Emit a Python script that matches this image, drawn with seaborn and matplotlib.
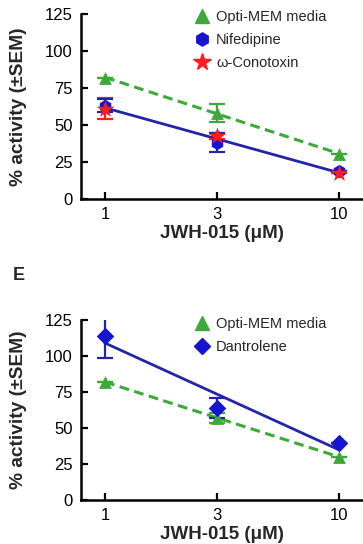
import numpy as np
import pandas as pd
import matplotlib
matplotlib.use("Agg")
import matplotlib.pyplot as plt
from matplotlib.lines import Line2D
import seaborn as sns

# ---- data ----
conc = [1, 3, 10]
tick_labels = ["1", "3", "10"]
y_ticks = [0, 25, 50, 75, 100, 125]

# panel D (top)
opti_top = [82, 58, 30.5]
opti_top_err = [0, 6, 0]
nifedipine = [63, 38, 19]
nifedipine_err = [4.5, 6.5, 0]
conotoxin = [61, 42.6, 17.5]
conotoxin_err = [7, 2, 0]

# panel E (bottom)
opti_bot = [82, 57, 30]
opti_bot_err = [0, 3.5, 0]
dantrolene = [114, 64, 39.4]
dantrolene_err = [15.4, 7, 0]

GREEN = "#3fa83a"
BLUE_M = "#1515d0"
BLUE_L = "#2424a8"
RED = "#ff1c1c"

sns.set_style("ticks")
plt.rcParams["font.family"] = ["Liberation Sans", "DejaVu Sans"]

fig = plt.figure(figsize=(3.63, 5.44), dpi=100)
W, H = 363, 544
ax1 = fig.add_axes([81 / W, (H - 199) / H, (W - 81) / W, 185 / H])
ax2 = fig.add_axes([81 / W, (H - 500) / H, (W - 81) / W, 180 / H])


def style_axes(ax):
    ax.set_xscale("log")
    ax.set_xlim(0.789, 12.66)
    ax.set_ylim(0, 125)
    ax.set_xticks(conc)
    ax.set_xticklabels(tick_labels)
    ax.minorticks_off()
    ax.set_yticks(y_ticks)
    ax.tick_params(direction="in", length=5, width=1.6, labelsize=12, pad=6, colors="black")
    ax.tick_params(axis="x", pad=6)
    for s in ["top", "right"]:
        ax.spines[s].set_visible(False)
    for s in ["left", "bottom"]:
        ax.spines[s].set_linewidth(1.8)
        ax.spines[s].set_color("black")
    ax.set_xlabel("JWH-015 (\u03bcM)", fontsize=13.5, fontweight="bold", labelpad=2)
    ax.set_ylabel("% activity (\u00b1SEM)", fontsize=13.8, fontweight="bold")
    ax.yaxis.set_label_coords(-0.19, 0.5)


def series(ax, y, err, color, line_color, marker, size, ls, draw_line=True, lw=2.0):
    df = pd.DataFrame({"x": conc, "y": y})
    if draw_line:
        sns.regplot(data=df, x="x", y="y", logx=True, ci=None, scatter=False, ax=ax,
                    truncate=True,
                    line_kws=dict(color=line_color, lw=lw, ls=ls, zorder=2))
    ax.errorbar(conc, y, yerr=err, fmt="none", ecolor=line_color, elinewidth=1.6,
                capsize=6, capthick=1.6, zorder=3)
    sns.scatterplot(data=df, x="x", y="y", marker=marker, s=size, color=color,
                    edgecolor=color, linewidth=0, ax=ax, zorder=4, legend=False)


# ---- top panel ----
series(ax1, opti_top, opti_top_err, GREEN, GREEN, "^", 85, (0, (3.2, 1.8)), lw=2.2)
series(ax1, conotoxin, conotoxin_err, RED, RED, "*", 160, "-", draw_line=False)
series(ax1, nifedipine, nifedipine_err, BLUE_M, BLUE_L, "h", 90, "-")
# re-draw red stars on top of the blue markers
sns.scatterplot(x=conc, y=conotoxin, marker="*", s=160, color=RED, linewidth=0,
                ax=ax1, zorder=5, legend=False)
style_axes(ax1)

h1 = [Line2D([], [], ls="none", marker="^", ms=9.5, color=GREEN, mec=GREEN),
      Line2D([], [], ls="none", marker="h", ms=9.5, color=BLUE_M, mec=BLUE_M),
      Line2D([], [], ls="none", marker="*", ms=13, color=RED, mec=RED)]
ax1.legend(h1, ["Opti-MEM media", "Nifedipine", "\u03c9-Conotoxin"], loc="upper left",
           bbox_to_anchor=(0.355, 1.09), frameon=False, fontsize=10.5,
           handlelength=1.0, handletextpad=0.5, labelspacing=0.6)

# ---- bottom panel ----
series(ax2, opti_bot, opti_bot_err, GREEN, GREEN, "^", 85, (0, (3.2, 1.8)), lw=2.2)
series(ax2, dantrolene, dantrolene_err, BLUE_M, BLUE_L, "D", 80, "-")
style_axes(ax2)

h2 = [Line2D([], [], ls="none", marker="^", ms=9.5, color=GREEN, mec=GREEN),
      Line2D([], [], ls="none", marker="D", ms=8.5, color=BLUE_M, mec=BLUE_M)]
ax2.legend(h2, ["Opti-MEM media", "Dantrolene"], loc="upper left",
           bbox_to_anchor=(0.355, 1.09), frameon=False, fontsize=10.5,
           handlelength=1.0, handletextpad=0.5, labelspacing=0.6)

fig.text(13 / W, 1 - 267 / H, "E", fontsize=13, fontweight="bold", va="top", ha="left")

fig.savefig("out.png", dpi=100)
